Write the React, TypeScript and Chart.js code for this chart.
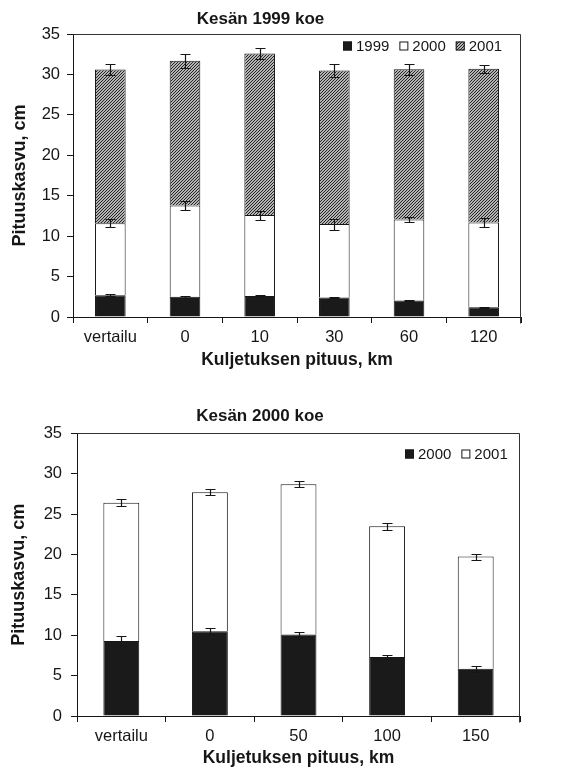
import React, { useEffect, useRef } from 'react';
import { Chart, registerables } from 'chart.js';
Chart.register(...registerables);

const FONT = '"Liberation Sans", Arial, Helvetica, sans-serif';
const INK = '#161616';

// Chart A: Kesän 1999 koe
const categoriesA = ['vertailu', '0', '10', '30', '60', '120'];
const seriesA1999 = [2.7, 2.5, 2.6, 2.4, 2.05, 1.2];
const seriesA2000 = [8.9, 11.3, 10.0, 9.1, 10.0, 10.5];
const seriesA2001 = [19.0, 17.9, 20.0, 19.0, 18.6, 19.0];
const errA1999 = [0.1, 0.1, 0.1, 0.1, 0.1, 0.05];
const errA2000 = [0.5, 0.6, 0.55, 0.68, 0.3, 0.58];
const errA2001 = [0.7, 0.85, 0.66, 0.76, 0.7, 0.5];

// Chart B: Kesän 2000 koe
const categoriesB = ['vertailu', '0', '50', '100', '150'];
const seriesB2000 = [9.3, 10.5, 10.1, 7.3, 5.85];
const seriesB2001 = [17.1, 17.2, 18.6, 16.2, 13.9];
const errB2000 = [0.6, 0.43, 0.34, 0.29, 0.35];
const errB2001 = [0.45, 0.37, 0.35, 0.41, 0.37];

const yMin = 0;
const yMax = 35;
const yStep = 5;

function makeHatch() {
  const p = 3;
  const c = document.createElement('canvas');
  c.width = p;
  c.height = p;
  const g = c.getContext('2d') as CanvasRenderingContext2D;
  g.fillStyle = '#f4f4f4';
  g.fillRect(0, 0, p, p);
  g.strokeStyle = '#1e1e1e';
  g.lineWidth = 1.15;
  g.beginPath();
  g.moveTo(-1, p + 1); g.lineTo(p + 1, -1);
  g.moveTo(-1, 1); g.lineTo(1, -1);
  g.moveTo(p - 1, p + 1); g.lineTo(p + 1, p - 1);
  g.stroke();
  return g.createPattern(c, 'repeat');
}

const errorBarPlugin = {
  id: 'errorBars',
  afterDatasetsDraw(chart: any) {
    const { ctx } = chart;
    const y = chart.scales.y;
    ctx.save();
    ctx.strokeStyle = INK;
    ctx.lineWidth = 1.2;
    chart.data.datasets.forEach((ds: any, di: number) => {
      const errs = ds.errors;
      if (!errs) return;
      const meta = chart.getDatasetMeta(di);
      meta.data.forEach((bar: any, i: number) => {
        let cum = 0;
        for (let k = 0; k <= di; k++) cum += chart.data.datasets[k].data[i];
        const e = errs[i];
        const yt = Math.round(y.getPixelForValue(cum + e)) + 0.5;
        const yb = Math.round(y.getPixelForValue(cum - e)) + 0.5;
        const x = Math.round(bar.x) + 0.5;
        const cw = 5;
        ctx.beginPath();
        ctx.moveTo(x, yt); ctx.lineTo(x, yb);
        ctx.moveTo(x - cw, yt); ctx.lineTo(x + cw, yt);
        ctx.moveTo(x - cw, yb); ctx.lineTo(x + cw, yb);
        ctx.stroke();
      });
    });
    ctx.restore();
  },
};

const framePlugin = {
  id: 'plotFrame',
  afterDatasetsDraw(chart: any) {
    const { ctx, chartArea } = chart;
    ctx.save();
    ctx.strokeStyle = '#333';
    ctx.lineWidth = 1;
    const l = Math.round(chartArea.left) + 0.5;
    const r = Math.round(chartArea.right) - 0.5;
    const t = Math.round(chartArea.top) + 0.5;
    const b = Math.round(chartArea.bottom) + 0.5;
    ctx.beginPath();
    ctx.moveTo(l, t); ctx.lineTo(r, t); ctx.lineTo(r, b + 6);
    ctx.stroke();
    ctx.restore();
  },
};

const insideLegendPlugin = {
  id: 'insideLegend',
  afterDraw(chart: any, _args: any, opts: any) {
    const { ctx, chartArea } = chart;
    ctx.save();
    ctx.font = `15px ${FONT}`;
    const box = 9;
    const gapText = 4;
    const gapItem = 10;
    const items = chart.data.datasets.map((ds: any) => ({
      label: ds.label,
      fill: ds.backgroundColor,
      w: box + gapText + ctx.measureText(ds.label).width,
    }));
    const total = items.reduce((s: number, it: any) => s + it.w, 0) + gapItem * (items.length - 1);
    let x = Math.round(chartArea.right - opts.rightGap - total);
    const cy = Math.round(chartArea.top + opts.topGap);
    items.forEach((it: any) => {
      ctx.fillStyle = it.fill;
      ctx.fillRect(x, cy - box / 2, box, box);
      ctx.strokeStyle = INK;
      ctx.lineWidth = 1;
      ctx.strokeRect(x + 0.5, cy - box / 2 + 0.5, box - 1, box - 1);
      ctx.fillStyle = INK;
      ctx.textBaseline = 'middle';
      ctx.textAlign = 'left';
      ctx.fillText(it.label, x + box + gapText, cy + 1);
      x += it.w + gapItem;
    });
    ctx.restore();
  },
};

function buildOptions(p: any) {
  return {
    responsive: false,
    animation: false,
    devicePixelRatio: 1,
    layout: { padding: { left: 0, right: p.rightPad, top: 0, bottom: 0 } },
    plugins: {
      legend: { display: false },
      tooltip: { enabled: false },
      title: {
        display: true,
        text: p.title,
        color: INK,
        font: { family: FONT, size: 17, weight: 'bold' },
        padding: { top: p.titleTop, bottom: p.titleBottom },
      },
      insideLegend: { rightGap: p.legendRight, topGap: p.legendTop },
    },
    scales: {
      x: {
        stacked: true,
        grid: { display: true, drawOnChartArea: false, drawTicks: true, tickLength: 6, color: INK, offset: true },
        border: { display: true, color: INK, width: 1 },
        ticks: { color: INK, font: { family: FONT, size: 16.5 }, padding: 5, maxRotation: 0 },
        title: {
          display: true,
          text: 'Kuljetuksen pituus, km',
          color: INK,
          font: { family: FONT, size: 17.5, weight: 'bold' },
          padding: { top: 0, bottom: p.xTitleBottom },
        },
        afterFit: (s: any) => { s.height = p.xHeight; },
      },
      y: {
        stacked: true,
        min: yMin,
        max: yMax,
        grid: { display: true, drawOnChartArea: false, drawTicks: true, tickLength: 6, color: INK },
        border: { display: true, color: INK, width: 1 },
        ticks: { stepSize: yStep, color: INK, font: { family: FONT, size: 16.5 }, padding: p.yTickPad },
        title: {
          display: true,
          text: 'Pituuskasvu, cm',
          color: INK,
          font: { family: FONT, size: 18, weight: 'bold' },
          padding: { top: p.yTitleTop, bottom: 0 },
        },
        afterFit: (s: any) => { s.width = p.yWidth; },
      },
    },
  };
}

function ChartA() {
  const ref = useRef<HTMLCanvasElement>(null);
  useEffect(() => {
    const hatch = makeHatch();
    const common = { borderColor: INK, borderWidth: 1, barPercentage: 0.5, categoryPercentage: 0.82 };
    const chart = new Chart(ref.current as HTMLCanvasElement, {
      type: 'bar',
      data: {
        labels: categoriesA,
        datasets: [
          { label: '1999', data: seriesA1999, backgroundColor: '#1a1a1a', errors: errA1999, ...common } as any,
          { label: '2000', data: seriesA2000, backgroundColor: '#ffffff', errors: errA2000, ...common } as any,
          { label: '2001', data: seriesA2001, backgroundColor: hatch, errors: errA2001, ...common } as any,
        ],
      },
      options: buildOptions({
        title: 'Kesän 1999 koe', rightPad: 45, titleTop: 9, titleBottom: 4.6,
        legendRight: 19, legendTop: 12, xTitleBottom: 4, xHeight: 58,
        yTickPad: 7, yTitleTop: 9, yWidth: 73,
      }) as any,
      plugins: [errorBarPlugin, framePlugin, insideLegendPlugin],
    });
    return () => chart.destroy();
  }, []);
  return <canvas ref={ref} width={566} height={375} style={{ display: 'block', position: 'absolute', left: 0, top: 0 }} />;
}

function ChartB() {
  const ref = useRef<HTMLCanvasElement>(null);
  useEffect(() => {
    const common = { borderColor: INK, borderWidth: 1, barPercentage: 0.5, categoryPercentage: 0.81 };
    const chart = new Chart(ref.current as HTMLCanvasElement, {
      type: 'bar',
      data: {
        labels: categoriesB,
        datasets: [
          { label: '2000', data: seriesB2000, backgroundColor: '#1a1a1a', errors: errB2000, ...common } as any,
          { label: '2001', data: seriesB2001, backgroundColor: '#ffffff', errors: errB2001, ...common } as any,
        ],
      },
      options: buildOptions({
        title: 'Kesän 2000 koe', rightPad: 46, titleTop: 21, titleBottom: 7,
        legendRight: 12, legendTop: 21, xTitleBottom: 0.5, xHeight: 53,
        yTickPad: 9, yTitleTop: 8, yWidth: 77,
      }) as any,
      plugins: [errorBarPlugin, framePlugin, insideLegendPlugin],
    });
    return () => chart.destroy();
  }, []);
  return <canvas ref={ref} width={566} height={384} style={{ display: 'block', position: 'absolute', left: 0, top: 385 }} />;
}

export default function App() {
  return (
    <div style={{ position: 'absolute', left: 0, top: 0, width: 566, height: 769, background: '#fff' }}>
      <ChartA />
      <ChartB />
    </div>
  );
}
